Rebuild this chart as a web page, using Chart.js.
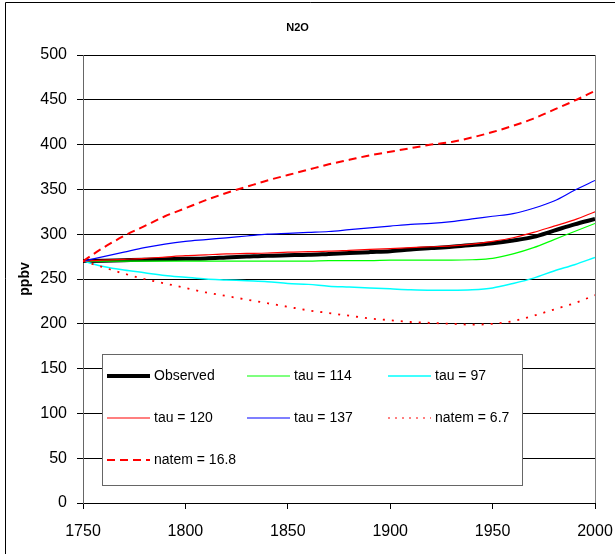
<!DOCTYPE html>
<html lang="en">
<head>
  <meta charset="UTF-8" />
  <title>N2O</title>
  <script src="https://cdn.jsdelivr.net/npm/chart.js"></script>
  <style>
    body {
      margin: 0;
      background: #fff;
    }
    #wrap {
      width: 615px;
      height: 554px;
    }
  </style>
</head>
<body>
  <div id="wrap">
    <canvas id="n2oChart" width="615" height="554"></canvas>
  </div>

  <script>
    // values, every 10 years
    const years = [1750, 1760, 1770, 1780, 1790, 1800, 1810, 1820, 1830, 1840, 1850, 1860, 1870,
                   1880, 1890, 1900, 1910, 1920, 1930, 1940, 1950, 1960, 1970, 1980, 1990, 2000];
    const observed = [270, 270.5, 271, 271.5, 272, 272.5, 273, 274, 275, 276, 276.5, 277, 278,
                      279, 280, 281, 283, 284.5, 286, 288, 290, 293, 297, 304, 311, 317];
    const tau114 = [270, 270, 270, 270, 270, 270, 270, 270, 270, 270, 270, 270, 270.5,
                    270.5, 270.5, 271, 271, 271, 271, 271.5, 273, 278, 285, 294, 303, 312];
    const tau97 = [270, 264, 260, 257, 254, 252, 250, 249, 248, 247, 245, 244, 242,
                   241, 240, 239, 238, 237.5, 237.5, 238, 240, 245, 251, 259, 266, 274];
    const tau120 = [270, 271, 272, 273, 274.5, 276, 277, 278, 278.5, 279, 280, 280.5, 281,
                    282, 283, 284, 285, 286, 287, 289, 292, 296, 302, 309, 316, 325];
    const tau137 = [270, 275, 280, 285, 289, 292, 294, 296, 298, 300, 301, 302, 303,
                    305, 307, 309, 311, 312, 314, 317, 320, 323, 329, 337, 349, 360];
    const natem67 = [270, 263, 256, 250, 245, 240, 235, 231, 227, 223, 219, 215, 212,
                     209, 206, 204, 202, 201, 200, 199, 200, 203, 209, 216, 223, 232];
    const natem168 = [270, 285, 298, 309, 320, 329, 338, 346, 353, 360, 366, 372, 378,
                      383, 388, 392, 396, 400, 403, 408, 414, 421, 429, 439, 449, 460];

    const seriesLabels = ['Observed', 'tau = 114', 'tau = 97', 'tau = 120', 'tau = 137', 'natem = 6.7', 'natem = 16.8'];
    const seriesValues = [observed, tau114, tau97, tau120, tau137, natem67, natem168];
    const seriesColors = ['#000000', '#00ff00', '#00ffff', '#ff0000', '#0000ff', '#ff0000', '#ff0000'];
    const seriesWidths = [4, 1.2, 1.5, 1.2, 1.2, 1.8, 2];
    const seriesDash = [[], [], [], [], [], [2, 7], [8, 5]];
    const xTicks = [1750, 1800, 1850, 1900, 1950, 2000];

    const FONT = "'Liberation Sans', Arial, sans-serif";

    // white page + the outer frame (top and left edges only are visible)
    const framePlugin = {
      id: 'frame',
      beforeDraw(chart) {
        const ctx = chart.ctx;
        ctx.save();
        ctx.fillStyle = '#fff';
        ctx.fillRect(0, 0, chart.width, chart.height);
        ctx.strokeStyle = '#000';
        ctx.lineWidth = 1;
        ctx.beginPath();
        ctx.moveTo(5.5, chart.height);
        ctx.lineTo(5.5, 2.5);
        ctx.lineTo(chart.width, 2.5);
        ctx.stroke();
        ctx.restore();
      },
      afterDatasetsDraw(chart) {
        const ctx = chart.ctx;
        const a = chart.chartArea;
        ctx.save();
        ctx.strokeStyle = '#808080';
        ctx.lineWidth = 1;
        ctx.beginPath();
        ctx.moveTo(Math.round(a.right) + 0.5, a.top);
        ctx.lineTo(Math.round(a.right) + 0.5, a.bottom);
        ctx.stroke();
        ctx.restore();
      }
    };

    // boxed legend, 3 columns, inside the plot
    const boxLegend = {
      id: 'boxLegend',
      afterDraw(chart) {
        const ctx = chart.ctx;
        const box = { x: 102.5, y: 354.5, w: 420, h: 131 };
        const colX = [107, 247, 388];
        const rowY = [376, 418, 460];
        ctx.save();
        ctx.fillStyle = '#fff';
        ctx.fillRect(box.x, box.y, box.w, box.h);
        ctx.strokeStyle = '#666';
        ctx.lineWidth = 1;
        ctx.strokeRect(box.x, box.y, box.w, box.h);
        ctx.font = '14px ' + FONT;
        ctx.textBaseline = 'middle';
        ctx.fillStyle = '#000';
        chart.data.datasets.forEach((ds, i) => {
          const cx = colX[i % 3];
          const cy = rowY[Math.floor(i / 3)];
          ctx.strokeStyle = ds.borderColor;
          ctx.lineWidth = i === 5 ? 1 : ds.borderWidth;
          ctx.setLineDash(i === 5 ? [2, 5] : ds.borderDash);
          ctx.beginPath();
          ctx.moveTo(cx, cy);
          ctx.lineTo(cx + 43, cy);
          ctx.stroke();
          ctx.setLineDash([]);
          ctx.fillText(ds.label, cx + 47, cy);
        });
        ctx.restore();
      }
    };

    const datasets = seriesLabels.map((label, i) => ({
      label: label,
      data: years.map((y, k) => ({ x: y, y: seriesValues[i][k] })),
      borderColor: seriesColors[i],
      backgroundColor: seriesColors[i],
      borderWidth: seriesWidths[i],
      borderDash: seriesDash[i],
      pointRadius: 0,
      cubicInterpolationMode: 'monotone',
      fill: false,
      order: 10 - i
    }));

    const ctx = document.getElementById('n2oChart').getContext('2d');
    const n2oChart = new Chart(ctx, {
      type: 'line',
      data: { datasets: datasets },
      options: {
        responsive: false,
        animation: false,
        events: [],
        layout: { padding: { left: 0, right: 20, top: 0, bottom: 0 } },
        plugins: {
          legend: { display: false },
          tooltip: { enabled: false },
          title: {
            display: true,
            text: 'N2O',
            color: '#000',
            font: { family: FONT, size: 11, weight: 'bold' },
            padding: { top: 21, bottom: 20.8 }
          }
        },
        scales: {
          x: {
            type: 'linear',
            min: 1750,
            max: 2000,
            afterFit(scale) {
              scale.height = 51;
              scale.paddingLeft = 0;
              scale.paddingRight = 0;
            },
            afterBuildTicks(scale) { scale.ticks = xTicks.map(v => ({ value: v })); },
            ticks: {
              color: '#000',
              font: { family: FONT, size: 16 },
              padding: 13,
              maxRotation: 0,
              callback: v => String(v)
            },
            grid: { drawOnChartArea: false, drawTicks: true, tickLength: 6, color: '#000' },
            border: { color: '#000', width: 1 }
          },
          y: {
            min: 0,
            max: 500,
            afterFit(scale) { scale.width = 83; },
            ticks: {
              stepSize: 50,
              color: '#000',
              font: { family: FONT, size: 16 },
              padding: 10
            },
            grid: { color: '#000', lineWidth: 1, tickLength: 6 },
            border: { color: '#666', width: 1 },
            title: {
              display: true,
              text: 'ppbv',
              color: '#000',
              font: { family: FONT, size: 14, weight: 'bold' },
              padding: { top: 17, bottom: 0 }
            }
          }
        }
      },
      plugins: [framePlugin, boxLegend]
    });
  </script>
</body>
</html>
